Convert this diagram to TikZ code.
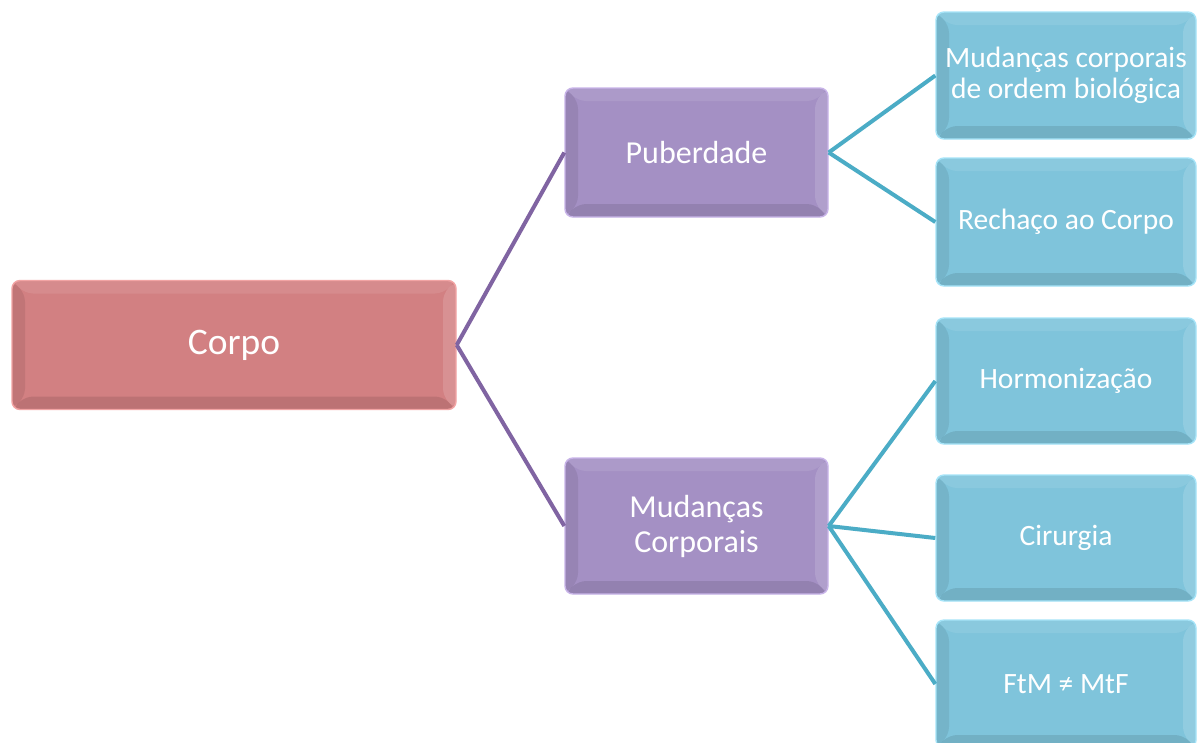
\documentclass[tikz,border=0pt]{standalone}
\usepackage{fontspec}
\setmainfont{Carlito}
\usetikzlibrary{calc}
\definecolor{rosefill}{HTML}{D28082}
\definecolor{roseedge}{HTML}{F2A4A4}
\definecolor{lilacfill}{HTML}{A490C4}
\definecolor{lilacedge}{HTML}{C8B4E8}
\definecolor{skyfill}{HTML}{7FC4DB}
\definecolor{skyedge}{HTML}{A6E4F8}
\definecolor{purpleline}{HTML}{8064A2}
\definecolor{blueline}{HTML}{4BACC6}
\tikzset{
  x=1pt, y=-1pt,
  bevelbox/.style n args={4}{
    rectangle, rounded corners=8pt, inner sep=0pt, align=center,
    minimum width=#1, minimum height=#2, fill=#3, draw=#4, line width=1.4pt,
    text=white, font=\fontsize{29.5}{31}\selectfont,
    path picture={
      \coordinate (nw) at (path picture bounding box.north west);
      \coordinate (ne) at (path picture bounding box.north east);
      \coordinate (sw) at (path picture bounding box.south west);
      \coordinate (se) at (path picture bounding box.south east);
      % top facet
      \fill[white,opacity=.09] (nw) -- (ne) -- ($(ne)+(-13pt,-13pt)$) -- ($(nw)+(13pt,-13pt)$) -- cycle;
      % left facet
      \fill[black,opacity=.08] (nw) -- ($(nw)+(13pt,-13pt)$) -- ($(sw)+(13pt,13pt)$) -- (sw) -- cycle;
      % bottom facet
      \fill[black,opacity=.10] (sw) -- ($(sw)+(13pt,13pt)$) -- ($(se)+(-13pt,13pt)$) -- (se) -- cycle;
      % right facet
      \fill[white,opacity=.14] (ne) -- (se) -- ($(se)+(-13pt,13pt)$) -- ($(ne)+(-13pt,-13pt)$) -- cycle;
    }
  },
  midlevel/.style={font=\fontsize{32}{35}\selectfont},
  link/.style={line width=4pt}
}
\begin{document}
\begin{tikzpicture}
\useasboundingbox (0,0) rectangle (1199,742);
\fill[white] (0,0) rectangle (1199,742);

% root
\node[bevelbox={444pt}{129pt}{rosefill}{roseedge}, font=\fontsize{37.5}{40}\selectfont] (corpo) at (234,345) {Corpo};

% second level
\node[bevelbox={263pt}{129pt}{lilacfill}{lilacedge}, midlevel] (pub) at (696.5,152.5) {Puberdade};
\node[bevelbox={263pt}{136pt}{lilacfill}{lilacedge}, midlevel] (mud) at (696.5,526) {Mudanças\\Corporais};

% leaves
\node[bevelbox={260pt}{127pt}{skyfill}{skyedge}] (bio) at (1066,75.5) {Mudanças corporais\\de ordem biológica};
\node[bevelbox={260pt}{128pt}{skyfill}{skyedge}] (rech) at (1066,222) {Rechaço ao Corpo};
\node[bevelbox={260pt}{126pt}{skyfill}{skyedge}] (horm) at (1066,381) {Hormonização};
\node[bevelbox={260pt}{126pt}{skyfill}{skyedge}] (cir) at (1066,538) {Cirurgia};
\node[bevelbox={260pt}{128pt}{skyfill}{skyedge}] (ftm) at (1066,684) {FtM ≠ MtF};

% connectors
\draw[link, purpleline] (corpo.east) -- (pub.west);
\draw[link, purpleline] (corpo.east) -- (mud.west);
\draw[link, blueline] (pub.east) -- (bio.west);
\draw[link, blueline] (pub.east) -- (rech.west);
\draw[link, blueline] (mud.east) -- (horm.west);
\draw[link, blueline] (mud.east) -- (cir.west);
\draw[link, blueline] (mud.east) -- (ftm.west);
\end{tikzpicture}
\end{document}
